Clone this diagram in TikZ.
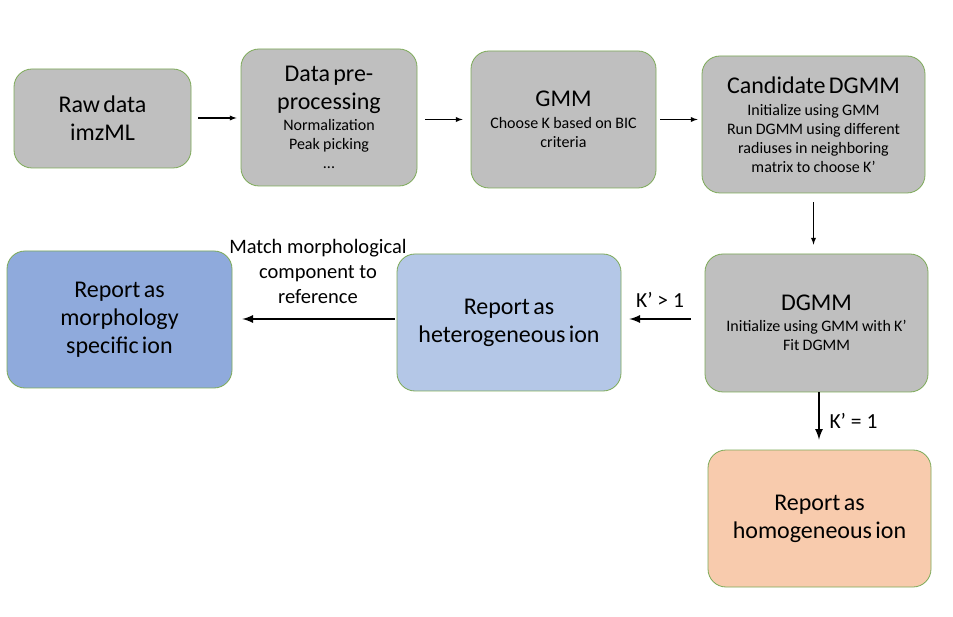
\documentclass[tikz,border=0pt]{standalone}
\usepackage{fontspec}
\setmainfont{Carlito}
\usetikzlibrary{arrows}
\usetikzlibrary{positioning,shapes}
\usepackage{xcolor}
\definecolor{boxgray}{HTML}{BFBFBF}
\definecolor{boxedge}{HTML}{7DAA58}
\definecolor{morphblue}{HTML}{8FAADC}
\definecolor{heteroblue}{HTML}{B4C7E7}
\definecolor{homoorange}{HTML}{F8CBAD}
\newcommand{\bigtxt}{\fontsize{24}{28}\selectfont}
\newcommand{\smalltxt}{\vspace{2.5pt}\fontsize{16}{19}\selectfont}
\newcommand{\lbltxt}{\fontsize{20.5}{25}\selectfont}
\tikzset{
  stagebox/.style={draw=boxedge, line width=0.8pt, rounded corners=18pt,
    fill=boxgray, align=center, inner sep=2pt},
  thinarrow/.style={-latex, line width=1.3pt},
  thickarrow/.style={-latex, line width=2.6pt}
}
\begin{document}
\begin{tikzpicture}[x=1pt,y=-1pt]
      \useasboundingbox[fill=white] (0,0) rectangle (953,617);
      % top row
      \node[stagebox, minimum width=177pt, minimum height=99pt, text width=170pt] (raw) at (102.5,118.5)
        {\bigtxt Raw data\par imzML\par};
      \node[stagebox, minimum width=176pt, minimum height=137pt, text width=170pt] (prep) at (329,117.5)
        {\bigtxt Data pre-\par processing\par\smalltxt Normalization\par Peak picking\par ...\par};
      \node[stagebox, minimum width=185pt, minimum height=137pt, text width=178pt] (gmm) at (563.5,119.5)
        {\bigtxt GMM\par\smalltxt Choose K based on BIC\par criteria\par};
      \node[stagebox, minimum width=223pt, minimum height=137pt, text width=216pt] (cand) at (813.5,124.5)
        {\bigtxt Candidate DGMM\par\smalltxt Initialize using GMM\par Run DGMM using different\par radiuses in neighboring\par matrix to choose K’\par};
      % middle row
      \node[stagebox, minimum width=223pt, minimum height=138pt, text width=216pt] (dgmm) at (816.5,323)
        {\bigtxt DGMM\par\smalltxt Initialize using GMM with K’\par Fit DGMM\par};
      \node[stagebox, fill=heteroblue, minimum width=224pt, minimum height=137pt, text width=216pt] (hetero) at (509,322.5)
        {\bigtxt Report as\par heterogeneous ion\par};
      \node[stagebox, fill=morphblue, minimum width=225pt, minimum height=137pt, text width=216pt] (morph) at (119.5,319.5)
        {\bigtxt Report as\par morphology\par specific ion\par};
      % bottom
      \node[stagebox, fill=homoorange, minimum width=223pt, minimum height=137pt, text width=216pt] (homo) at (819.5,518.5)
        {\bigtxt Report as\par homogeneous ion\par};
      % arrows
      \draw[thinarrow, shorten <=7pt, shorten >=4pt] (raw.east |- 0,118) -- (prep.west |- 0,118);
      \draw[thinarrow, shorten <=8pt, shorten >=8pt] (prep.east |- gmm.west) -- (gmm.west);
      \draw[thinarrow, shorten <=4pt, shorten >=4pt] (gmm.east) -- (gmm.east -| cand.west);
      \draw[thinarrow, shorten <=9pt, shorten >=9pt] (cand.south) -- (cand.south |- dgmm.north);
      \draw[thickarrow, shorten <=14pt, shorten >=8pt] (dgmm.west |- 0,319) -- (hetero.east |- 0,319);
      \draw[thickarrow, shorten <=2pt, shorten >=10pt] (hetero.west |- 0,319) -- (morph.east |- 0,319);
      \draw[thickarrow, shorten >=10pt] (dgmm.south -| 819,0) -- (homo.north -| 819,0);
      % labels
      \node[font=\fontsize{21.5}{25}\selectfont] (gtlbl) at (660,300) {K’ > 1};
      \node[font=\fontsize{21.5}{25}\selectfont, anchor=west] (eqlbl) at (826,421) {K’ = 1};
      \node[font=\lbltxt, align=center] (matchlbl) at (318,271) {Match morphological\\ component to\\ reference};
    \end{tikzpicture}
\end{document}
